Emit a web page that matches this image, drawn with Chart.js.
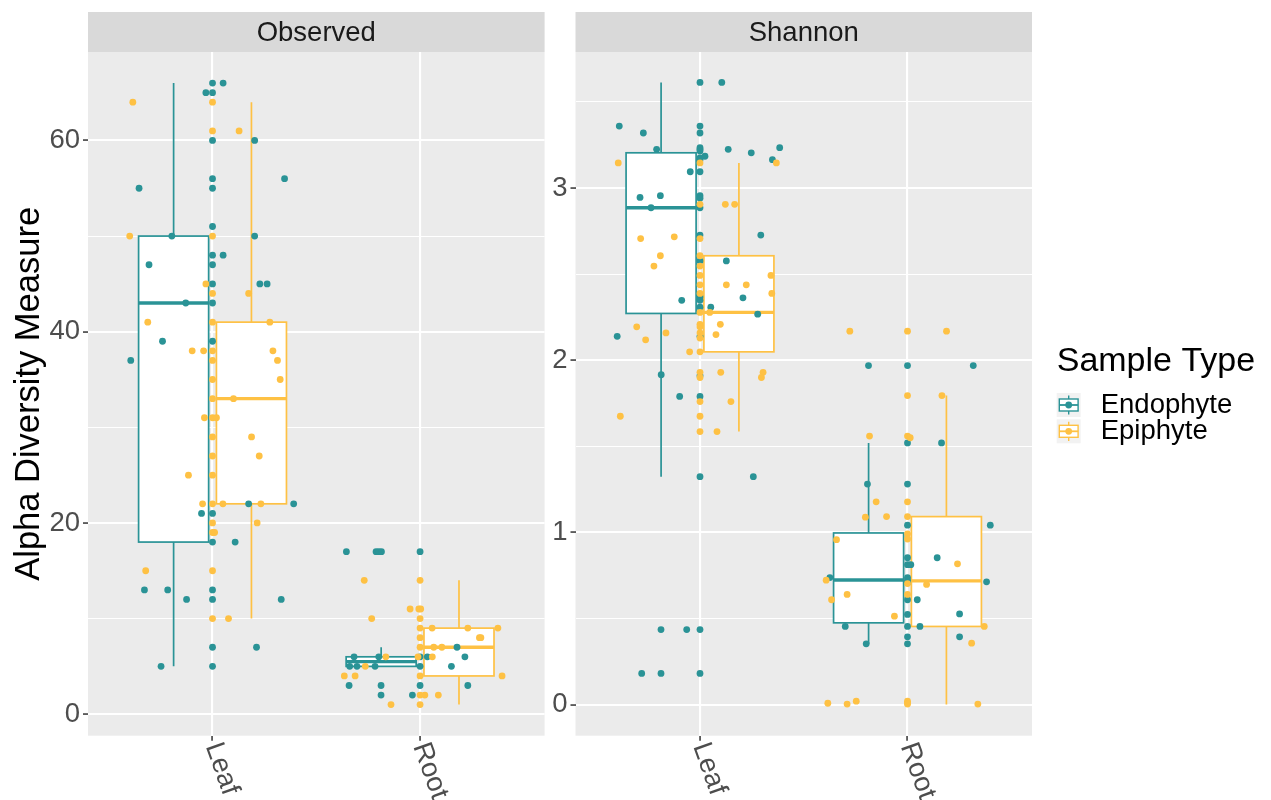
<!DOCTYPE html>
<html><head><meta charset="utf-8">
<script src="https://cdn.jsdelivr.net/npm/chart.js@4.4.0/dist/chart.umd.min.js"></script>
<style>
html,body{margin:0;padding:0;background:#fff;width:1271px;height:800px;overflow:hidden;}
#c1{position:absolute;left:0;top:0;}
#c2{position:absolute;left:520px;top:0;}
</style></head><body>
<canvas id="c1" width="560" height="800"></canvas>
<canvas id="c2" width="751" height="800"></canvas>
<script>
const categories = ['Leaf', 'Root'];
const sampleTypes = ['Endophyte', 'Epiphyte'];
const facets = ['Observed', 'Shannon'];
const legendTitle = 'Sample Type';
const yAxisTitle = 'Alpha Diversity Measure';
const colors = ['#2A9396', '#FEC144'];

const observedTicks = [0, 20, 40, 60];
const observedMinor = [10, 30, 50];
const shannonTicks = [0, 1, 2, 3];
const shannonMinor = [0.5, 1.5, 2.5, 3.5];

// points: [category position (1 = Leaf, 2 = Root) incl. jitter, value]
const observedEndophyte = [
  [1,66],[1,65],[1,60],[1,56],[1,55],[1,51],[1,48],[1,47],[1,45],[1,43],[1,39],[1,21],[1,18],[1,13],[1,12],[1,7],[1,5],
  [1.051,66],[0.968,65],[1.203,60],[1.347,56],[0.646,55],[0.804,50],[1.203,50],[1.051,48],[0.694,47],[1.228,45],[1.263,45],
  [0.871,43],[0.759,39],[0.606,37],[1.174,22],[1.391,22],[0.947,21],[1.109,18],[0.672,13],[0.784,13],[0.875,12],[1.331,12],
  [1.212,7],[0.752,5],
  [2,17],[2,6],[2,5],[2,3],
  [1.645,17],[1.788,17],[1.801,17],[1.814,17],[2.178,7],[1.682,6],[1.801,6],[2.035,6],[2.216,6],[1.661,5],[1.696,5],
  [1.783,5],[2.151,5],[1.658,3],[1.812,3],[2.230,3],[1.812,2],[1.963,2]
];
const observedEpiphyte = [
  [1,64],[1,61],[1,50],[1,44],[1,41],[1,38],[1,37],[1,35],[1,33],[1,31],[1,29],[1,27],[1,25],[1,22],[1,20],[1,19],[1.01,19],[1,15],[1,10],
  [0.616,64],[1.128,61],[0.601,50],[0.968,45],[1.174,44],[0.688,41],[1.276,41],[0.902,38],[0.957,38],[1.291,38],[1.313,37],
  [1.326,35],[1.101,33],[0.961,31],[1.019,31],[1.188,29],[1.225,27],[0.884,25],[0.952,22],[1.050,22],[1.233,22],[1.215,20],
  [0.678,15],[1.077,10],
  [2,14],[1.994,11],[2.003,11],[2,10],[2,9],[2,8],[2,7],[1.99,6],[2,4],[2,2],[2,1],
  [1.731,14],[1.952,11],[1.767,10],[2.058,9],[2.230,9],[2.375,9],[2.286,8],[2.293,8],[2.066,7],[2.105,7],[1.835,6],[2.059,6],
  [1.736,5],[1.635,4],[1.687,4],[2.395,4],[2.023,2],[2.088,2],[1.860,1]
];
const shannonEndophyte = [
  [1,3.614],[1,3.36],[1,3.32],[1,3.235],[1,3.225],[1,3.215],[1,3.175],[1,3.165],[1,3.095],[1,2.956],[1,2.941],[1,2.886],
  [1,2.727],[1,2.577],[1,2.368],[1,2.348],[1,2.308],[1,2.139],[1,1.91],[1,1.79],[1,1.324],[1,0.436],[1,0.181],
  [1.105,3.614],[0.611,3.36],[0.727,3.32],[0.791,3.225],[1.024,3.185],[1.136,3.225],[1.247,3.205],[1.384,3.235],[1.349,3.165],
  [0.953,3.095],[0.711,2.946],[0.809,2.956],[0.764,2.886],[1.293,2.727],[1.127,2.577],[0.912,2.348],[1.207,2.363],[1.052,2.308],
  [1.278,2.268],[0.601,2.139],[0.813,1.916],[0.902,1.79],[1.257,1.324],[0.812,0.436],[0.936,0.436],[0.719,0.181],[0.812,0.181],
  [2,1.969],[2,1.52],[2,1.281],[2,1.042],[2,0.853],[2,0.813],[2,0.738],[2,0.723],[2,0.708],[2,0.609],[2,0.524],[2,0.454],[2,0.394],[2,0.353],
  [1.812,1.969],[2.317,1.969],[2.164,1.52],[1.807,1.281],[2.399,1.042],[2.143,0.853],[2.016,0.813],[1.626,0.738],[2.381,0.713],
  [2.047,0.609],[2.251,0.527],[1.700,0.454],[2.060,0.454],[2.251,0.394],[1.801,0.353]
];
const shannonEpiphyte = [
  [1,3.146],[1,2.906],[1,2.707],[1,2.607],[1,2.547],[1,2.493],[1,2.438],[1,2.388],[1,2.278],[1,2.209],[1,2.194],[1,2.159],
  [1,2.129],[1,2.049],[1,1.93],[1,1.9],[1,1.76],[1,1.675],[1,1.586],
  [1.368,3.146],[0.606,3.146],[1.122,2.906],[1.167,2.906],[0.714,2.707],[0.876,2.717],[0.809,2.607],[0.778,2.547],[1.342,2.493],
  [1.127,2.438],[1.223,2.438],[1.346,2.388],[1.047,2.278],[0.695,2.194],[1.098,2.209],[0.836,2.159],[0.738,2.119],[1.077,2.149],
  [0.950,2.049],[1.100,1.93],[1.304,1.93],[1.296,1.9],[1.149,1.76],[0.616,1.675],[1.082,1.586],
  [2,2.169],[2,1.795],[2,1.56],[2.013,1.55],[2,1.178],[2,1.092],[2,0.992],[2,0.962],[2,0.703],[2,0.64],[2,0.02],[2,0.01],[2,0.003],
  [1.722,2.169],[2.188,2.169],[2.166,1.795],[1.817,1.56],[1.849,1.178],[1.797,1.089],[1.899,1.092],[1.658,0.958],[2.241,0.818],
  [1.608,0.723],[2.092,0.698],[1.709,0.64],[1.634,0.609],[1.937,0.514],[2.370,0.454],[2.309,0.357],[1.616,0.008],[1.709,0.003],
  [1.753,0.02],[2.339,0.003]
];

// box stats: [category, lower whisker, Q1, median, Q3, upper whisker]
const observedEndophyteBox = [[1,5,18,43,50,66],[2,5,5,5.5,6,7]];
const observedEpiphyteBox  = [[1,10,22,33,41,64],[2,1,4,7,9,14]];
const shannonEndophyteBox  = [[1,1.324,2.272,2.886,3.205,3.614],[2,0.353,0.475,0.724,0.997,1.52]];
const shannonEpiphyteBox   = [[1,1.586,2.049,2.278,2.607,3.146],[2,0,0.454,0.719,1.092,1.795]];

const FONT = '"Liberation Sans", Arial, Helvetica, sans-serif';
const DODGE = 0.1875, HALF = 0.16875;

const bgPlugin = {
  id: 'panelBg',
  beforeDraw(chart, args, opts) {
    const {ctx, chartArea: a} = chart;
    ctx.save();
    ctx.fillStyle = '#EBEBEB';
    ctx.fillRect(a.left, a.top, a.right - a.left, a.bottom - a.top);
    ctx.fillStyle = '#D9D9D9';
    ctx.fillRect(a.left, 12, a.right - a.left, a.top - 12);
    ctx.fillStyle = '#1A1A1A';
    ctx.font = '27.5px ' + FONT;
    ctx.textAlign = 'center';
    ctx.textBaseline = 'middle';
    ctx.fillText(opts.strip, (a.left + a.right) / 2, (12 + a.top) / 2 + 1);
    ctx.restore();
  }
};

const boxPlugin = {
  id: 'boxes',
  beforeDatasetsDraw(chart, args, opts) {
    const {ctx} = chart;
    const xs = chart.scales.x, ys = chart.scales.y;
    ctx.save();
    opts.series.forEach((s, si) => {
      const off = si === 0 ? -DODGE : DODGE;
      s.forEach(([cat, lo, q1, med, q3, hi]) => {
        const x0 = xs.getPixelForValue(cat + off - HALF);
        const x1 = xs.getPixelForValue(cat + off + HALF);
        const xc = xs.getPixelForValue(cat + off);
        const yl = ys.getPixelForValue(lo), y1 = ys.getPixelForValue(q1);
        const ym = ys.getPixelForValue(med), y3 = ys.getPixelForValue(q3);
        const yh = ys.getPixelForValue(hi);
        ctx.strokeStyle = colors[si];
        ctx.lineWidth = 1.7;
        ctx.beginPath();
        ctx.moveTo(xc, y3); ctx.lineTo(xc, yh);
        ctx.moveTo(xc, y1); ctx.lineTo(xc, yl);
        ctx.stroke();
        ctx.fillStyle = '#FFFFFF';
        ctx.fillRect(x0, y3, x1 - x0, y1 - y3);
        ctx.strokeRect(x0, y3, x1 - x0, y1 - y3);
        ctx.lineWidth = 3.4;
        ctx.beginPath();
        ctx.moveTo(x0, ym); ctx.lineTo(x1, ym);
        ctx.stroke();
      });
    });
    ctx.restore();
  }
};

const labelPlugin = {
  id: 'xlabels',
  afterDraw(chart, args, opts) {
    const {ctx, chartArea: a} = chart;
    const xs = chart.scales.x;
    ctx.save();
    ctx.font = '27.5px ' + FONT;
    ctx.fillStyle = '#4D4D4D';
    ctx.textAlign = 'left';
    ctx.textBaseline = 'middle';
    categories.forEach((c, i) => {
      const x = xs.getPixelForValue(i + 1);
      ctx.save();
      ctx.translate(x, a.bottom + 8);
      ctx.rotate(70 * Math.PI / 180);
      ctx.fillText(c, 0, 0);
      ctx.restore();
    });
    if (opts.yTitle) {
      ctx.save();
      ctx.translate(39, (a.top + a.bottom) / 2);
      ctx.rotate(-Math.PI / 2);
      ctx.font = '34.5px ' + FONT;
      ctx.fillStyle = '#000000';
      ctx.textAlign = 'center';
      ctx.textBaseline = 'alphabetic';
      ctx.fillText(opts.yTitle, 0, 0);
      ctx.restore();
    }
    if (opts.legend) {
      const lx = a.right + 24.7;
      ctx.fillStyle = '#000000';
      ctx.font = '34px ' + FONT;
      ctx.textAlign = 'left';
      ctx.textBaseline = 'alphabetic';
      ctx.fillText(legendTitle, lx, 370.7);
      sampleTypes.forEach((t, i) => {
        const ky = 393 + i * 26.3;
        ctx.fillStyle = '#F2F2F2';
        ctx.fillRect(lx, ky, 24, 24);
        ctx.strokeStyle = colors[i];
        ctx.lineWidth = 1.4;
        ctx.beginPath();
        ctx.moveTo(lx + 12, ky + 2.4); ctx.lineTo(lx + 12, ky + 21.6);
        ctx.stroke();
        ctx.fillStyle = '#FFFFFF';
        ctx.fillRect(lx + 2.6, ky + 6, 18.8, 12);
        ctx.strokeRect(lx + 2.6, ky + 6, 18.8, 12);
        ctx.lineWidth = 1.8;
        ctx.beginPath();
        ctx.moveTo(lx + 2.6, ky + 12); ctx.lineTo(lx + 21.4, ky + 12);
        ctx.stroke();
        ctx.fillStyle = colors[i];
        ctx.beginPath();
        ctx.arc(lx + 12, ky + 12, 3.4, 0, Math.PI * 2);
        ctx.fill();
        ctx.fillStyle = '#000000';
        ctx.font = '27.5px ' + FONT;
        ctx.textBaseline = 'middle';
        ctx.fillText(t, lx + 44, ky + 12);
        ctx.textBaseline = 'alphabetic';
      });
    }
    ctx.restore();
  }
};

function makeChart(id, cfg) {
  const allTicks = cfg.major.concat(cfg.minor).sort((a, b) => a - b);
  const isMajor = v => cfg.major.some(m => Math.abs(m - v) < 1e-9);
  return new Chart(document.getElementById(id), {
    type: 'scatter',
    data: {
      datasets: cfg.points.map((p, i) => ({
        label: sampleTypes[i],
        data: p.map(([x, y]) => ({x, y})),
        backgroundColor: colors[i],
        borderWidth: 0,
        pointRadius: 3.4,
        pointHoverRadius: 3.4,
        order: i === 0 ? 2 : 1
      }))
    },
    options: {
      responsive: false,
      animation: false,
      events: [],
      layout: {padding: {top: 52, left: 0, right: cfg.padRight, bottom: 0}},
      scales: {
        x: {
          type: 'linear', min: 0.4, max: 2.6,
          afterBuildTicks: s => { s.ticks = categories.map((c, i) => ({value: i + 1})); },
          afterFit: s => { s.height = 64.3; },
          grid: {color: '#FFFFFF', lineWidth: 2.1, drawTicks: true, tickLength: 5, tickColor: '#333333', tickWidth: 1.5},
          border: {display: false},
          ticks: {display: false}
        },
        y: {
          type: 'linear', min: cfg.min, max: cfg.max,
          afterBuildTicks: s => { s.ticks = allTicks.map(v => ({value: v})); },
          afterFit: s => { s.width = cfg.yWidth; },
          grid: {
            color: '#FFFFFF',
            lineWidth: c => (c.tick && isMajor(c.tick.value)) ? 2.1 : 1.05,
            drawTicks: true, tickLength: 5,
            tickColor: c => (c.tick && isMajor(c.tick.value)) ? '#333333' : 'rgba(0,0,0,0)',
            tickWidth: 1.5
          },
          border: {display: false},
          ticks: {
            autoSkip: false, padding: 3, color: '#4D4D4D',
            font: {family: FONT, size: 27.5},
            callback: v => isMajor(v) ? String(v) : ''
          }
        }
      },
      plugins: {
        legend: {display: false},
        tooltip: {enabled: false},
        panelBg: {strip: cfg.strip},
        boxes: {series: cfg.boxes},
        xlabels: {yTitle: cfg.yTitle, legend: cfg.legend}
      }
    },
    plugins: [bgPlugin, boxPlugin, labelPlugin]
  });
}

makeChart('c1', {
  strip: facets[0], points: [observedEndophyte, observedEpiphyte],
  boxes: [observedEndophyteBox, observedEpiphyteBox],
  major: observedTicks, minor: observedMinor, min: -2.25, max: 69.25,
  yWidth: 88, padRight: 15.4, yTitle: yAxisTitle, legend: false
});
makeChart('c2', {
  strip: facets[1], points: [shannonEndophyte, shannonEpiphyte],
  boxes: [shannonEndophyteBox, shannonEpiphyteBox],
  major: shannonTicks, minor: shannonMinor, min: -0.1805, max: 3.7905,
  yWidth: 55.5, padRight: 239, yTitle: null, legend: true
});
</script>
</body></html>
